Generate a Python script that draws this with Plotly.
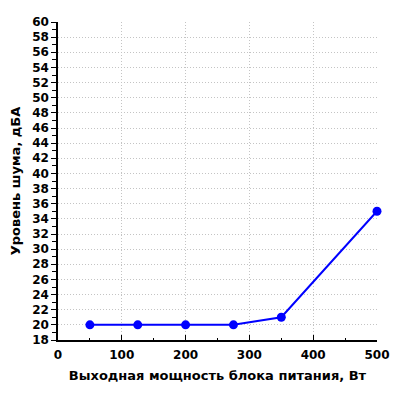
import plotly.graph_objects as go

power_w = [50, 125, 200, 275, 350, 500]
noise_dba = [20, 20, 20, 20, 21, 35]
x_title = "Выходная мощность блока питания, Вт"
y_title = "Уровень шума, дБА"

fig = go.Figure()
fig.add_trace(go.Scatter(
    x=power_w, y=noise_dba, mode="lines+markers",
    line=dict(color="#0000ff", width=2),
    marker=dict(color="#0000ff", size=9),
    showlegend=False, cliponaxis=False,
))

# page body has an 8px default margin; compensate
fig.update_layout(
    width=392, height=392,
    margin=dict(l=50, r=23, t=14, b=60, autoexpand=False),
    paper_bgcolor="white", plot_bgcolor="white",
    font=dict(family="DejaVu Sans", size=12, color="black"),
)
common = dict(
    showline=True, linecolor="black", linewidth=1.5,
    tickcolor="black",
    showgrid=True, gridcolor="#c4c4c4", griddash="1px,2px", gridwidth=1,
    zeroline=False, automargin=False,
    tickfont=dict(family="DejaVu Sans", size=12, weight="bold", color="black"),
)
fig.update_xaxes(
    range=[0, 500], tickmode="linear", tick0=0, dtick=100,
    ticks="inside", ticklen=5, ticklabelstandoff=3,
    minor=dict(dtick=50, ticks="inside", ticklen=2, tickcolor="black", showgrid=False),
    title=dict(text=x_title, font=dict(family="DejaVu Sans", size=13, weight="bold", color="black"), standoff=10),
    **common,
)
fig.update_yaxes(
    range=[18, 60], tickmode="linear", tick0=18, dtick=2,
    ticks="outside", ticklen=5,
    minor=dict(dtick=1, ticks="outside", ticklen=4, tickcolor="black", showgrid=False),
    title=dict(text=y_title, font=dict(family="DejaVu Sans", size=13, weight="bold", color="black"), standoff=18),
    **common,
)
fig.write_html("out.html")
